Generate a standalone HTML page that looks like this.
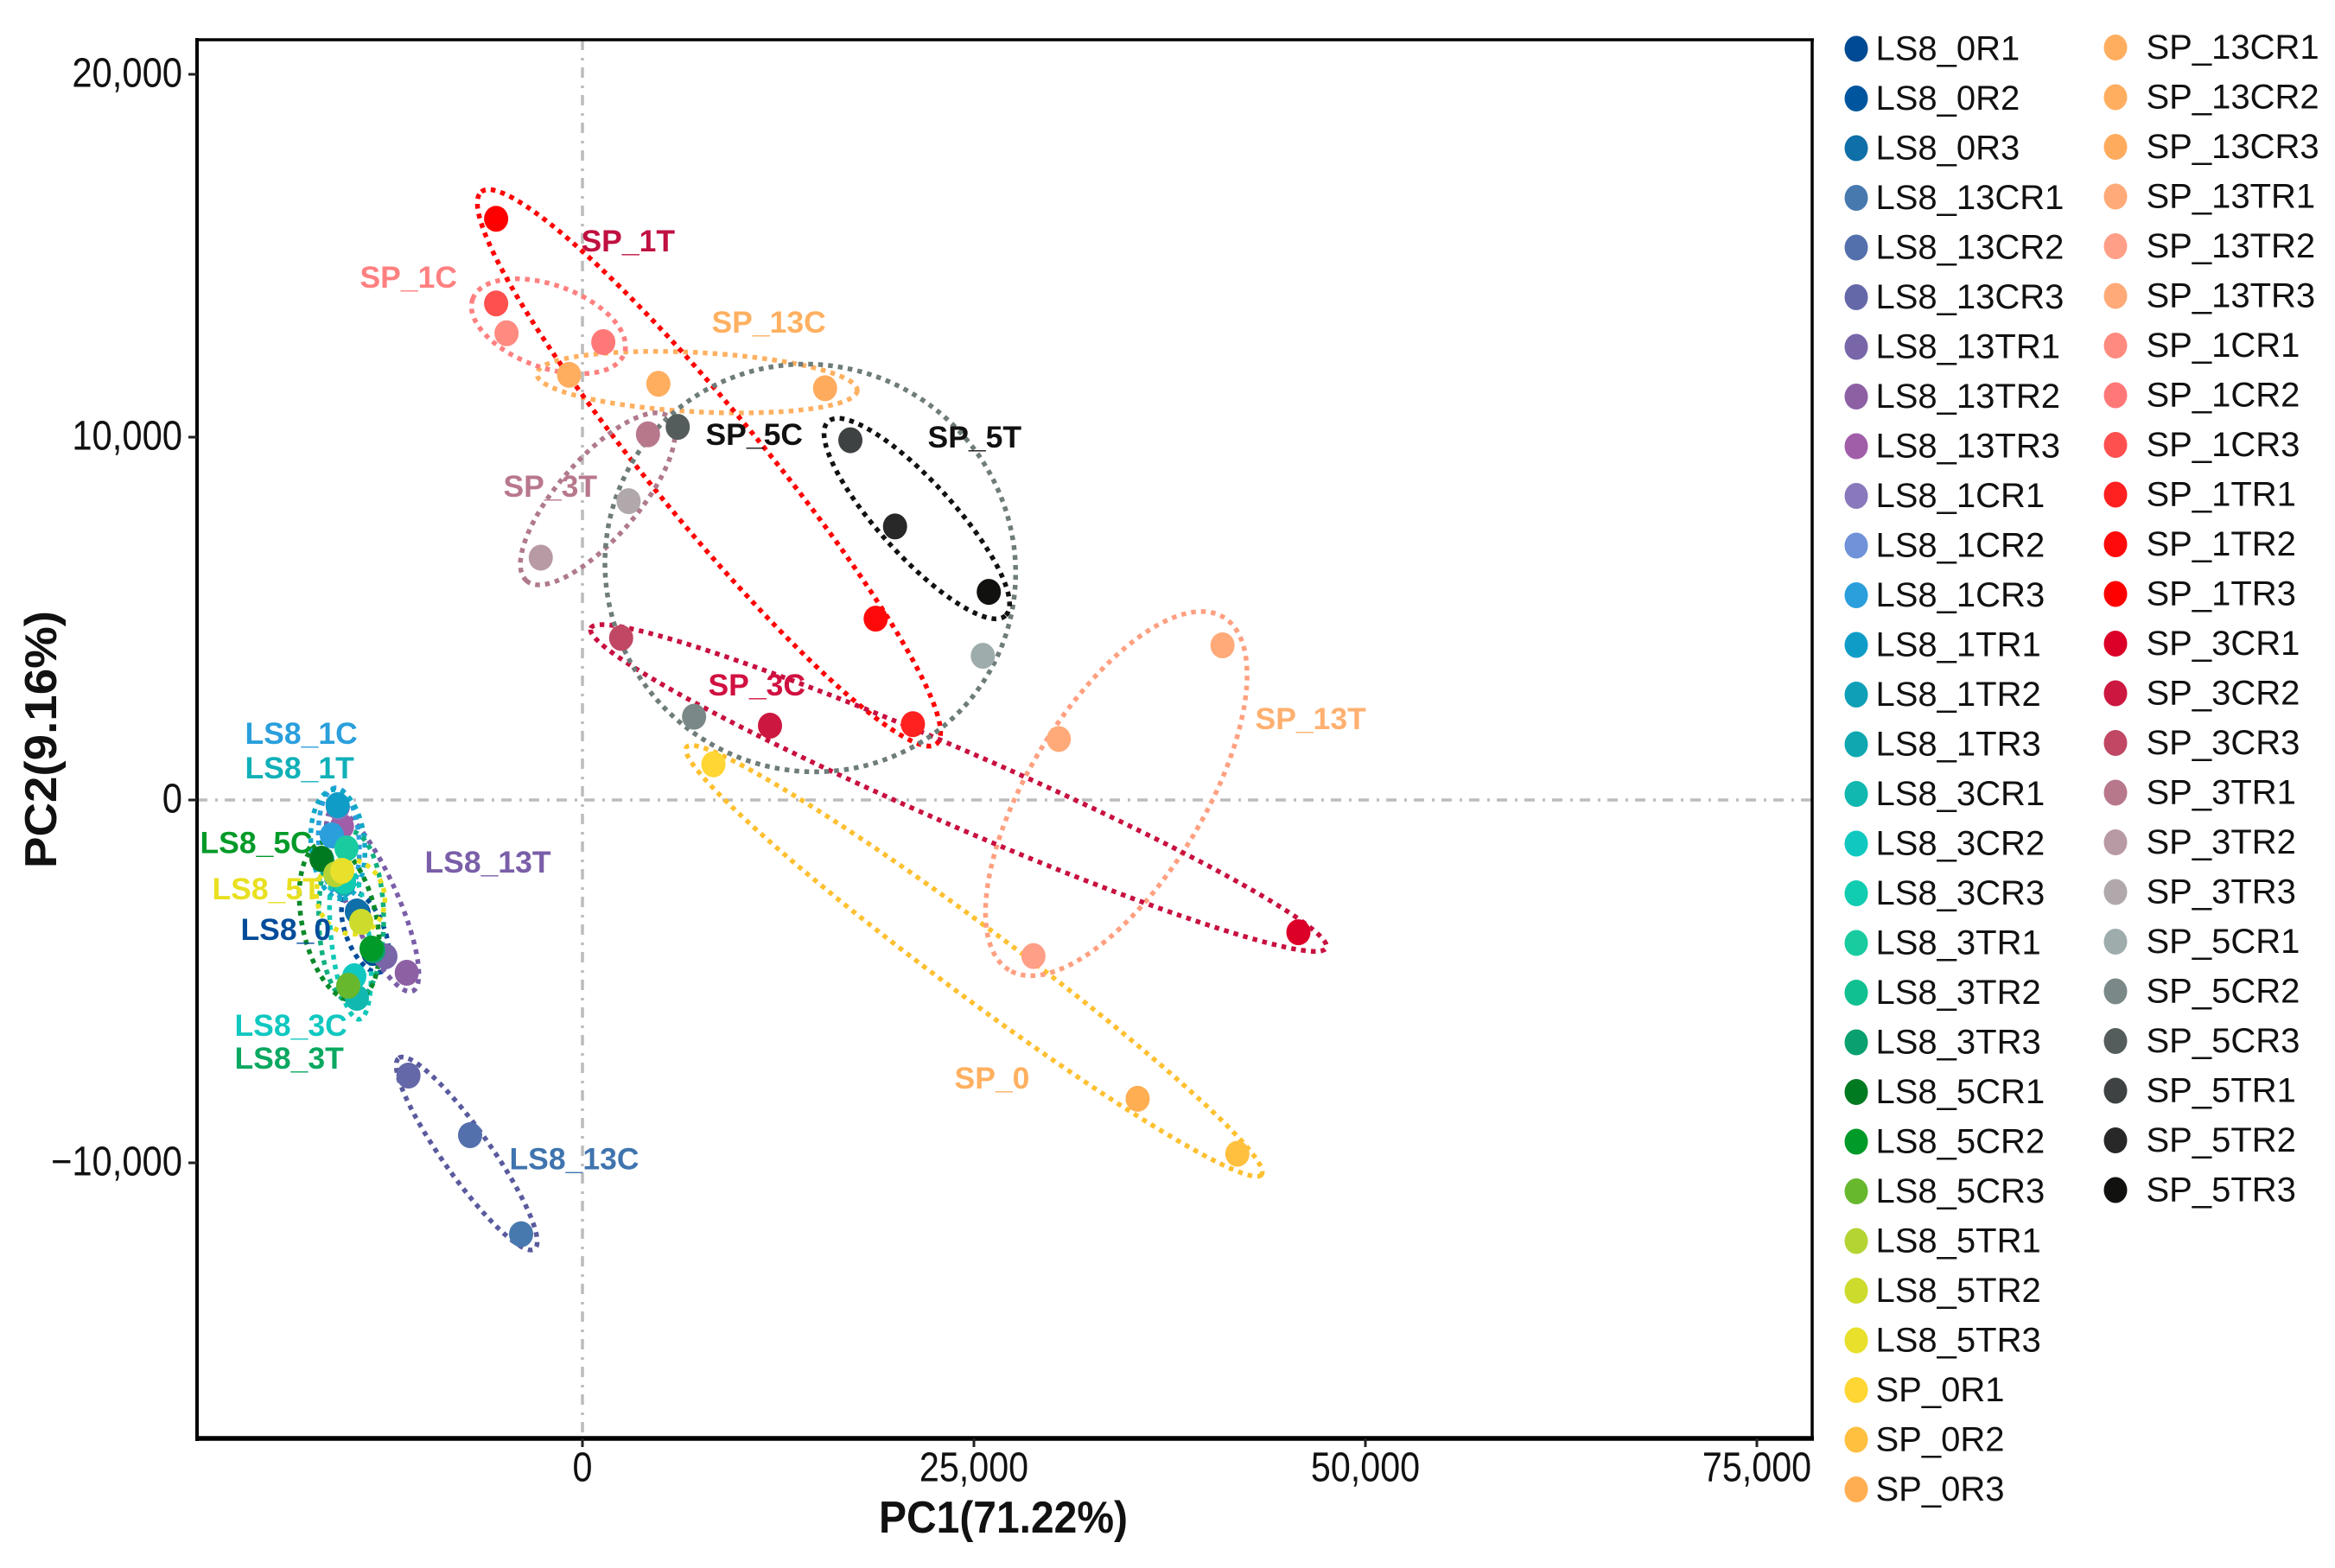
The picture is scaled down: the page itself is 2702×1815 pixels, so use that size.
<!DOCTYPE html>
<html lang="en">
<head>
<meta charset="utf-8">
<title>PCA score plot</title>
<style>
html,body{margin:0;padding:0;background:#fff;}
svg{display:block;font-family:"Liberation Sans",sans-serif;}
</style>
</head>
<body>
<svg id="chart" xmlns="http://www.w3.org/2000/svg" width="2702" height="1815" viewBox="0 0 2702 1815">
<rect x="0" y="0" width="2702" height="1815" fill="#ffffff"/>
<g id="refs"></g>
<g id="ellipses"></g>
<g id="points"></g>
<g id="labels"></g>
<g id="axes"></g>
<g id="legend"></g>
<text x="1161" y="1774" font-size="52" font-weight="700" text-anchor="middle" textLength="288" lengthAdjust="spacingAndGlyphs" fill="#111">PC1(71.22%)</text>
<text transform="translate(65,856) rotate(-90)" font-size="52" font-weight="700" text-anchor="middle" textLength="298" lengthAdjust="spacingAndGlyphs" fill="#111">PC2(9.16%)</text>
</svg>
<script>
const sampleNames = [
"LS8_0R1","LS8_0R2","LS8_0R3","LS8_13CR1","LS8_13CR2","LS8_13CR3","LS8_13TR1","LS8_13TR2","LS8_13TR3",
"LS8_1CR1","LS8_1CR2","LS8_1CR3","LS8_1TR1","LS8_1TR2","LS8_1TR3","LS8_3CR1","LS8_3CR2","LS8_3CR3",
"LS8_3TR1","LS8_3TR2","LS8_3TR3","LS8_5CR1","LS8_5CR2","LS8_5CR3","LS8_5TR1","LS8_5TR2","LS8_5TR3",
"SP_0R1","SP_0R2","SP_0R3","SP_13CR1","SP_13CR2","SP_13CR3","SP_13TR1","SP_13TR2","SP_13TR3",
"SP_1CR1","SP_1CR2","SP_1CR3","SP_1TR1","SP_1TR2","SP_1TR3","SP_3CR1","SP_3CR2","SP_3CR3",
"SP_3TR1","SP_3TR2","SP_3TR3","SP_5CR1","SP_5CR2","SP_5CR3","SP_5TR1","SP_5TR2","SP_5TR3"];
const pc1Values = [
-13356,-14294,-14405,-3918,-7175,-11110,-12583,-11220,-15359,
-15619,-15343,-16005,-15635,-16612,-15232,-14405,-14570,-15232,
-15067,-14956,-13356,-16667,-13466,-14956,-15784,-14129,-15343,
8365,41825,35456,-855,4848,15494,40875,28802,30418,
-4848,1331,-5513,21103,18726,-5513,45722,11977,2471,
4183,-2662,2947,25570,7129,6084,17110,19962,25950];
const pc2Values = [
-4214,-3119,-3071,-11967,-9238,-7595,-4310,-4762,-731,
-190,-2119,-976,-143,-1643,-2286,-5452,-4857,-2238,
-1333,-5119,-4143,-1619,-4095,-5119,-2048,-3357,-1952,
983,-9751,-8235,11717,11471,11348,4261,-4302,1680,
12864,12618,13684,2089,4998,16018,-3646,2048,4466,
10078,6678,8235,3974,2294,10283,9915,7538,5736];
const samplePalette = [
"#004a94","#00569e","#0f6fa8","#4779ae","#5370ac","#6468a8","#7866a8","#8d60a4","#a05ea8",
"#8a78bc","#6f92d8","#2a9fdc","#0f9dc8","#0fa0b8","#10a8b0","#10b8b0","#10c8c0","#10ccb0",
"#18cca0","#10c090","#0aa070","#007a20","#009a28","#68b82e","#b4d434","#cddc2c","#e8e02a",
"#ffd633","#ffc040","#ffae52","#ffae60","#ffae60","#ffab5e","#ffaa78","#ff9f88","#ffaa78",
"#ff8a80","#ff7878","#ff5050","#ff2020","#ff0a0a","#ff0000","#dc0028","#cc1840","#c04864",
"#b8788c","#b89aa4","#b0a8aa","#9eacac","#7a8888","#555c5c","#3e4242","#282828","#111110"];
const groupNames = ["LS8_0","LS8_13C","LS8_13T","LS8_1C","LS8_1T","LS8_3C","LS8_3T","LS8_5C","LS8_5T",
"SP_0","SP_13C","SP_13T","SP_1C","SP_1T","SP_3C","SP_3T","SP_5C","SP_5T"];
const ellipsePalette = ["#004c9a","#5a5a9e","#7a5ea8","#2a9fdc","#10a8c8","#10c8b8","#10b080","#0a8a28","#e8e020",
"#ffc030","#ffb060","#ffa080","#ff8080","#ff0000","#c81040","#b07a8c","#6e7c7a","#111111"];
const labelPalette = ["#004c9a","#3f74ae","#7a5ea8","#2a9fdc","#10b0b8","#10c8c0","#0aa860","#009a28","#e8e020",
"#ffb060","#ffb060","#ffb070","#ff8080","#c01040","#d01040","#b8788c","#111111","#111111"];
const labelPc1 = [-21800,-4636,-10045,-21524,-21524,-22186,-22186,-24394,-23621,23787,8279,42993,-14184,-55,8058,-5022,7892,22076];
const labelPc2 = [-3857,-10181,-2000,1548,595,-6500,-7405,-1464,-2738,-7953,12881,1952,14119,15120,2881,8357,9786,9714];
const xTicks = [0,25000,50000,75000];
const xTickLabels = ["0","25,000","50,000","75,000"];
const yTicks = [-10000,0,10000,20000];
const yTickLabels = ["\u221210,000","0","10,000","20,000"];

const X0 = 674, XK = 453 / 25000;
const Y0 = 926, YK = 420 / 10000;
const xScale = v => X0 + v * XK;
const yScale = v => Y0 - v * YK;
const NS = "http://www.w3.org/2000/svg";
function mk(parent, tag, attrs, text) {
  const el = document.createElementNS(NS, tag);
  for (const k in attrs) el.setAttribute(k, attrs[k]);
  if (text !== undefined) el.textContent = text;
  parent.appendChild(el);
  return el;
}
const L = 228, R = 2097, T = 46, B = 1665;

/* reference lines */
const refs = document.getElementById("refs");
const refH = mk(refs, "line", {x1:L, x2:R, y1:yScale(0), y2:yScale(0), stroke:"#bcbcbc", "stroke-width":3.5, "stroke-dasharray":"12 9 3 8"});


const refV = mk(refs, "line", {x1:xScale(0), x2:xScale(0), y1:T, y2:B, stroke:"#bcbcbc", "stroke-width":3.5, "stroke-dasharray":"12 9 3 8"});



/* ellipses: long axis along the farthest pair of points in each group, expanded */
const ellG = document.getElementById("ellipses");
groupNames.forEach((g, gi) => {
  const isLS8 = g.indexOf("LS8") === 0;
  const expandLong = isLS8 ? 25 : 38;
  const expandShort = isLS8 ? 22 : 34;
  const pts = [];
  sampleNames.forEach((n, i) => {
    if (n.replace(/R\d$/, "") === g) pts.push([xScale(pc1Values[i]), yScale(pc2Values[i])]);
  });
  let far = -1, p0 = pts[0], p1 = pts[0];
  pts.forEach(p => pts.forEach(q => {
    const d = Math.hypot(p[0]-q[0], p[1]-q[1]);
    if (d > far) { far = d; p0 = p; p1 = q; }
  }));
  const a0 = Math.max(far / 2, 1);
  const mx = (p0[0]+p1[0]) / 2, my = (p0[1]+p1[1]) / 2;
  const ang = Math.atan2(p1[1]-p0[1], p1[0]-p0[0]);
  const c = Math.cos(ang), s = Math.sin(ang);
  let b0 = 0, vs = 0;
  pts.forEach(p => {
    const dx = p[0]-mx, dy = p[1]-my;
    const u = dx*c + dy*s, v = -dx*s + dy*c;
    const den = Math.sqrt(Math.max(1 - (u/a0)*(u/a0), 0.05));
    const fit = Math.abs(v) / den;
    if (fit > b0) { b0 = fit; vs = v; }
  });
  const cx = mx - s * vs * 0.15, cy = my + c * vs * 0.15;
  const a = a0 + expandLong * (1 - 0.5 * Math.min(b0 / a0, 1));
  const b = Math.sqrt(0.81*b0*b0 + expandShort*expandShort);
  const el = mk(ellG, "ellipse", {
    cx: cx, cy: cy, rx: a, ry: b,
    transform: "rotate(" + (ang*180/Math.PI) + " " + cx + " " + cy + ")",
    fill: "none", stroke: ellipsePalette[gi], "stroke-width": 5.5, "stroke-dasharray": "5.5 6"
  });
  
  
});

/* points */
const ptG = document.getElementById("points");
sampleNames.forEach((name, i) => {
  const el = mk(ptG, "ellipse", {cx:xScale(pc1Values[i]), cy:yScale(pc2Values[i]), rx:14, ry:15, fill:samplePalette[i]});
  
  
});

/* group labels */
const lblG = document.getElementById("labels");
groupNames.forEach((g, i) => {
  const el = mk(lblG, "text", {x:xScale(labelPc1[i]) - 0.5, y:yScale(labelPc2[i]), "font-size":35.5, "font-weight":700, fill:labelPalette[i]}, g);
  
  
});

/* axes */
const axG = document.getElementById("axes");
const spineL = mk(axG, "line", {x1:L, x2:L, y1:T-2, y2:B+3, stroke:"#000", "stroke-width":4});


const spineB = mk(axG, "line", {x1:L-2, x2:R+2, y1:B, y2:B, stroke:"#000", "stroke-width":5.5});


const spineT = mk(axG, "line", {x1:L-2, x2:R+2, y1:T, y2:T, stroke:"#000", "stroke-width":3.5});


const spineR = mk(axG, "line", {x1:R, x2:R, y1:T, y2:B, stroke:"#000", "stroke-width":3.5});


xTicks.forEach((v, i) => {
  const px = xScale(v);
  const t = mk(axG, "line", {x1:px, x2:px, y1:B, y2:B+10, stroke:"#222", "stroke-width":3});
  
  
  const lb = mk(axG, "text", {transform:"translate(" + px + ",1714.5) scale(0.86,1)", "font-size":48, "text-anchor":"middle", fill:"#111"}, xTickLabels[i]);
  
  
});
yTicks.forEach((v, i) => {
  const py = yScale(v);
  const t = mk(axG, "line", {x1:L-10, x2:L, y1:py, y2:py, stroke:"#222", "stroke-width":3});
  
  
  const lb = mk(axG, "text", {transform:"translate(211," + (py+14.5) + ") scale(0.87,1)", "font-size":48, "text-anchor":"end", fill:"#111"}, yTickLabels[i]);
  
  
});

/* legend */
const legG = document.getElementById("legend");
sampleNames.forEach((name, i) => {
  const col = i < 30 ? 0 : 1;
  const row = col ? i - 30 : i;
  const cy = 56.5 + row * 57.5;
  const dot = mk(legG, "ellipse", {cx: col ? 2448 : 2148, cy: col ? cy - 1.5 : cy, rx:13.5, ry:15, fill:samplePalette[i]});
  
  
  const tx = mk(legG, "text", {x: col ? 2483.5 : 2170.5, y: col ? cy + 11.5 : cy + 13, "font-size":40, fill:"#111"}, name);
  
  
});
</script>
</body>
</html>
